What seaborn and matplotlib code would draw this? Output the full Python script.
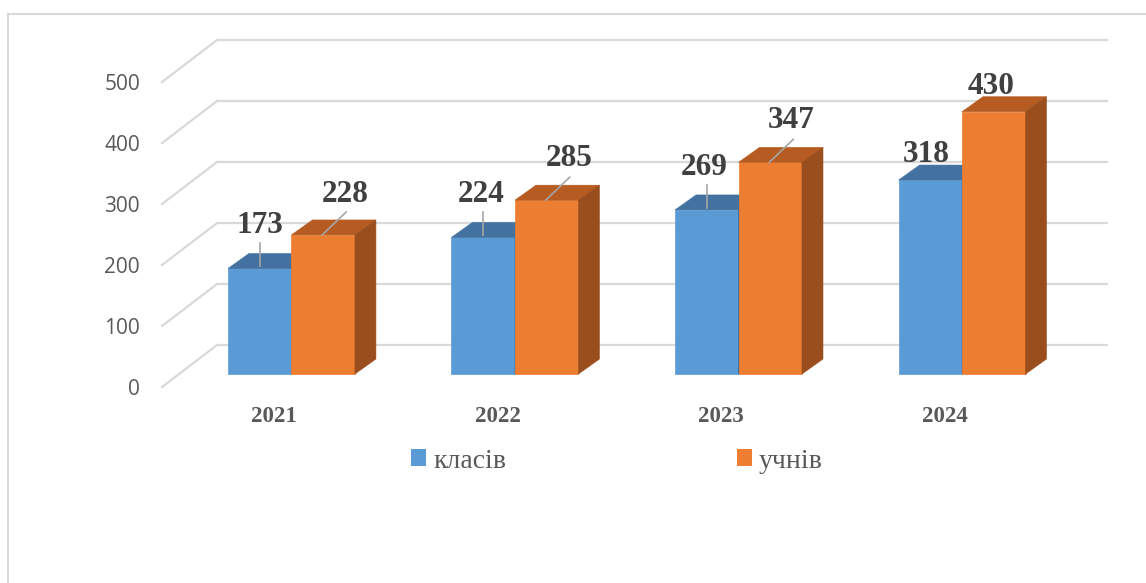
import matplotlib
matplotlib.use('Agg')
import seaborn as sns
import matplotlib.pyplot as plt
import pandas as pd
from matplotlib.patches import Polygon, Rectangle
from matplotlib.lines import Line2D

years = ['2021', '2022', '2023', '2024']
klasiv = [173, 224, 269, 318]
uchniv = [228, 285, 347, 430]
series = ['класів', 'учнів']
yticks = [0, 100, 200, 300, 400, 500]

# label nudges in pixels (Excel had them dragged by hand)
lab_dx = {'класів': [0, -2, -3, -4], 'учнів': [22, 22, 21, -3]}
lab_dy = {'класів': [35, 35, 35, 18], 'учнів': [33, 34, 34, 18]}
leader = [True, True, True, False]

blue = '#5B9BD5'
orange = '#ED7D31'
shade = {blue: ('#4472A0', '#3B6690'), orange: ('#B65C22', '#9A4E1D')}

df = pd.DataFrame({'year': years * 2,
                   'value': klasiv + uchniv,
                   'series': [series[0]] * 4 + [series[1]] * 4})

W, H = 1146, 583
fig = plt.figure(figsize=(W / 100, H / 100), dpi=100)
ax = fig.add_axes([179 / W, 1 - 400 / H, (1070 - 179) / W, 370 / H])
sns.barplot(data=df, x='year', y='value', hue='series', palette=[blue, orange],
            width=0.568, saturation=1, ax=ax, legend=False, linewidth=0)
ax.set_xlim(-0.503, 3.483)
ax.set_ylim(-42.6, 564)
ax.axis('off')

# data units per pixel
px = (ax.get_xlim()[1] - ax.get_xlim()[0]) / (1070 - 179)
pv = (ax.get_ylim()[1] - ax.get_ylim()[0]) / 370
back = (38 * px, 29 * pv)
front = (-17 * px, -13 * pv)
depth = (21 * px, 15 * pv)
x0, x1 = ax.get_xlim()
grid_c = '#d9d9d9'

for v in yticks:
    ax.plot([x0 + back[0], x1 + back[0]], [v + back[1]] * 2, color=grid_c, lw=1.6,
            zorder=1, clip_on=False, solid_capstyle='butt')
    ax.plot([x0 + front[0], x0 + back[0]], [v + front[1], v + back[1]], color=grid_c,
            lw=1.6, zorder=1, clip_on=False)
    ax.text(x0 + front[0] - 22 * px, v + front[1] - 8 * pv, str(v), ha='right',
            va='baseline', fontsize=15, color='#595959', family='Open Sans')

# fake 3d faces on seaborn's bars
for p in ax.patches:
    fc = matplotlib.colors.to_hex(p.get_facecolor())
    name = series[0] if fc.lower() == blue.lower() else series[1]
    z = 2 if name == series[0] else 3
    p.set_zorder(z)
    p.set_edgecolor(fc)
    p.set_linewidth(0.5)
    bx, bw, bh = p.get_x(), p.get_width(), p.get_height()
    top_c, side_c = shade[blue if name == series[0] else orange]
    ax.add_patch(Polygon([(bx, bh), (bx + bw, bh), (bx + bw + depth[0], bh + depth[1]),
                          (bx + depth[0], bh + depth[1])], closed=True, fc=top_c,
                         ec=top_c, lw=0.4, zorder=z + 0.5))
    ax.add_patch(Polygon([(bx + bw, 0), (bx + bw, bh), (bx + bw + depth[0], bh + depth[1]),
                          (bx + bw + depth[0], depth[1])], closed=True, fc=side_c,
                         ec=side_c, lw=0.4, zorder=z + 0.5))

    i = int(round(bx + bw / 2 + (0.142 if name == series[0] else -0.142)))
    cx = bx + bw / 2
    ax.text(cx + lab_dx[name][i] * px, bh + lab_dy[name][i] * pv, f'{int(bh)}',
            ha='center', va='baseline', fontsize=22.5, fontweight='bold',
            color='#404040', family='Liberation Serif', zorder=6)
    if leader[i]:
        if name == series[0]:
            ax.plot([cx, cx], [bh + 2 * pv, bh + 25 * pv], color='#a6a6a6', lw=1.2, zorder=6)
        else:
            ax.plot([cx - 1 * px, cx + 23 * px], [bh, bh + 23 * pv], color='#a6a6a6',
                    lw=1.2, zorder=6)

for i, yr in enumerate(years):
    ax.text(i - 17.5 * px, -48 * pv, yr, ha='center', va='baseline', fontsize=16.5,
            fontweight='bold', color='#595959', family='Liberation Serif')

handles = [Rectangle((0, 0), 1, 1, fc=blue, ec='none'),
           Rectangle((0, 0), 1, 1, fc=orange, ec='none')]
fig.legend(handles, series, ncol=2, loc='center', bbox_to_anchor=(617 / W, 1 - 461 / H),
           frameon=False, handlelength=0.55, handleheight=0.55, handletextpad=0.25,
           columnspacing=8.3, prop={'family': 'Liberation Serif', 'size': 20},
           labelcolor='#595959')

# chart frame
fig.add_artist(Line2D([8 / W, 8 / W], [0, 1 - 14 / H], color=grid_c, lw=1.5))
fig.add_artist(Line2D([8 / W, 1], [1 - 14 / H, 1 - 14 / H], color=grid_c, lw=1.5))

fig.savefig('out.png', dpi=100)
